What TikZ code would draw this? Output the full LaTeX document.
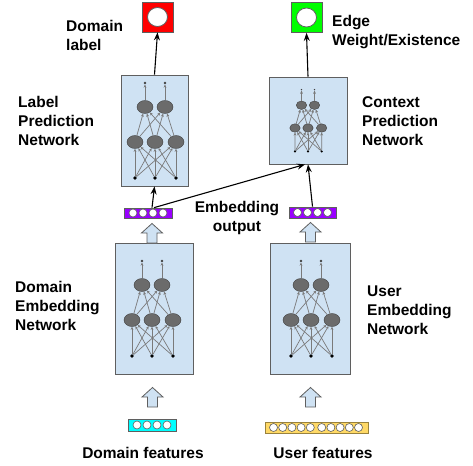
\documentclass[tikz,border=0pt]{standalone}
\usepackage{fontspec}
\setsansfont{Liberation Sans}
\usetikzlibrary{shapes.geometric,arrows.meta}

\definecolor{netblue}{HTML}{CFE2F3}
\definecolor{boxgrey}{HTML}{5F5F5F}
\definecolor{neurongrey}{HTML}{6B6B6B}
\definecolor{syngrey}{HTML}{7A7A7A}
\definecolor{embpurple}{HTML}{9900FF}
\definecolor{incyan}{HTML}{00FFFF}
\definecolor{inyellow}{HTML}{FFD966}
\definecolor{outred}{HTML}{FF0000}
\definecolor{outgreen}{HTML}{00FF00}

\tikzset{
  txt/.style={font=\sffamily\bfseries\fontsize{15.5}{19}\selectfont, align=left, inner sep=0pt},
  netbox/.style={draw=boxgrey, fill=netblue, line width=0.8pt, inner sep=0pt},
  outbox/.style={draw=boxgrey, line width=0.8pt, minimum width=31pt, minimum height=30pt, inner sep=0pt},
  outdot/.style={ellipse, draw=boxgrey, fill=white, line width=0.8pt, minimum width=20pt, minimum height=19pt, inner sep=0pt},
  bar/.style={draw=boxgrey, line width=0.7pt, inner sep=0pt},
  bead/.style={circle, draw=boxgrey, fill=white, line width=0.6pt, minimum size=8pt, inner sep=0pt},
  neuron/.style={ellipse, draw=neurongrey!60!black, fill=neurongrey, minimum width=16pt, minimum height=13pt, inner sep=0pt},
  inpt/.style={circle, fill=black, minimum size=3.8pt, inner sep=0pt},
  outpt/.style={circle, fill=black!75, minimum size=2.6pt, inner sep=0pt},
  syn/.style={draw=syngrey, line width=0.7pt, -{Stealth[length=3.2pt,width=2.8pt]}},
  flow/.style={-{Stealth[length=8pt,width=6pt]}, line width=1.1pt},
  blockarr/.style={draw=boxgrey, fill=netblue, line width=0.8pt, line join=miter},
  pics/annnet/.style={code={
    \foreach \i/\x in {1/-20,2/0,3/21} {
      \node[inpt] (-in\i) at (\x,36) {};
      \node[neuron] (-a\i) at (\x,0) {};
    }
    \foreach \j/\x in {1/-10,2/10} {
      \node[neuron] (-b\j) at (\x,-35) {};
      \node[outpt] (-out\j) at (\x,-59) {};
    }
    \foreach \i in {1,2,3}
      \foreach \k in {1,2,3}
        \draw[syn] (-in\i) -- (-a\k);
    \foreach \i in {1,2,3}
      \foreach \j in {1,2}
        \draw[syn] (-a\i) -- (-b\j);
    \foreach \j in {1,2}
      \draw[syn] (-b\j) -- (-out\j);
  }},
  pics/uparrow/.style={code={
    \draw[blockarr] (-5,0) -- (-5,-10) -- (-10.5,-10) -- (0,-19.5) -- (10.5,-10) -- (5,-10) -- (5,0) -- cycle;
  }}
}

\begin{document}
\begin{tikzpicture}[x=1pt,y=-1pt]
\useasboundingbox (0,0) rectangle (473,465);

% network boxes
\node[netbox, minimum width=67pt, minimum height=111pt] (lpn) at (154.5,130.5) {};
\node[netbox, minimum width=78pt, minimum height=87pt] (cpn) at (308,120.5) {};
\node[netbox, minimum width=78pt, minimum height=131pt] (den) at (154,309) {};
\node[netbox, minimum width=80pt, minimum height=131pt] (uen) at (310,309) {};

\pic (lpnet) at (155,142) {annnet};
\pic[scale=0.65, transform shape] (cpnet) at (308,128) {annnet};
\pic (dennet) at (152,320) {annnet};
\pic (uennet) at (311,320) {annnet};

% outputs
\node[outbox, fill=outred] (dlabel) at (157.5,17) {};
\node[outdot] (dlabel-c) at (dlabel) {};
\node[outbox, fill=outgreen] (edge) at (306.5,17.5) {};
\node[outdot] (edge-c) at (edge) {};

% embedding vectors
\node[bar, fill=embpurple, minimum width=48pt, minimum height=10pt] (demb) at (148,213) {};
\foreach \dx [count=\k] in {-15,-5,5,15}
  \node[bead] (demb\k) at ([xshift=\dx pt]demb.center) {};
\node[bar, fill=embpurple, minimum width=47pt, minimum height=11pt] (uemb) at (312.5,212.5) {};
\foreach \dx [count=\k] in {-15,-5,5,15}
  \node[bead] (uemb\k) at ([xshift=\dx pt]uemb.center) {};

% input features
\node[bar, fill=incyan, minimum width=48pt, minimum height=12pt] (dfeat) at (152,425) {};
\foreach \dx [count=\k] in {-15,-5,5,15}
  \node[bead] (dfeat\k) at ([xshift=\dx pt]dfeat.center) {};
\node[bar, draw=inyellow!60!black, fill=inyellow, minimum width=103pt, minimum height=11pt] (ufeat) at (316.5,427.5) {};
\foreach \dx [count=\k] in {-43,-33.8,-24.6,-15.4,-6.2,5.2,14.4,23.6,32.8,42}
  \node[bead] (ufeat\k) at ([xshift=\dx pt]ufeat.center) {};

% block arrows
\pic at (152,243) {uparrow};
\pic at (310.5,242) {uparrow};
\pic at (152.5,407) {uparrow};
\pic at (310.5,407) {uparrow};

% connectors
\path[flow]
([xshift=4pt]demb.north) edge (lpn.south)
([xshift=6pt]demb.north) edge ([xshift=-3pt]cpn.south)
(uemb.north) edge (cpn.south)
(lpn.north) edge (dlabel.south)
(cpn.north) edge (edge.south);

% labels
\node[txt, anchor=west] (dlabeltxt) at (66,35) {Domain\\label};
\node[txt, anchor=west] (edgetxt) at (332,32) {Edge\\Weight/Existence};
\node[txt, anchor=west] (lpntxt) at (18,121) {Label\\Prediction\\Network};
\node[txt, anchor=west] (cpntxt) at (362,121) {Context\\Prediction\\Network};
\node[txt, align=center] (embtxt) at (237,218) {Embedding\\output};
\node[txt, anchor=west] (dentxt) at (15,306) {Domain\\Embedding\\Network};
\node[txt, anchor=west] (uentxt) at (367,310) {User\\Embedding\\Network};
\node[txt] (dfeattxt) at (143,453) {Domain features};
\node[txt] (ufeattxt) at (323,453) {User features};
\end{tikzpicture}
\end{document}
